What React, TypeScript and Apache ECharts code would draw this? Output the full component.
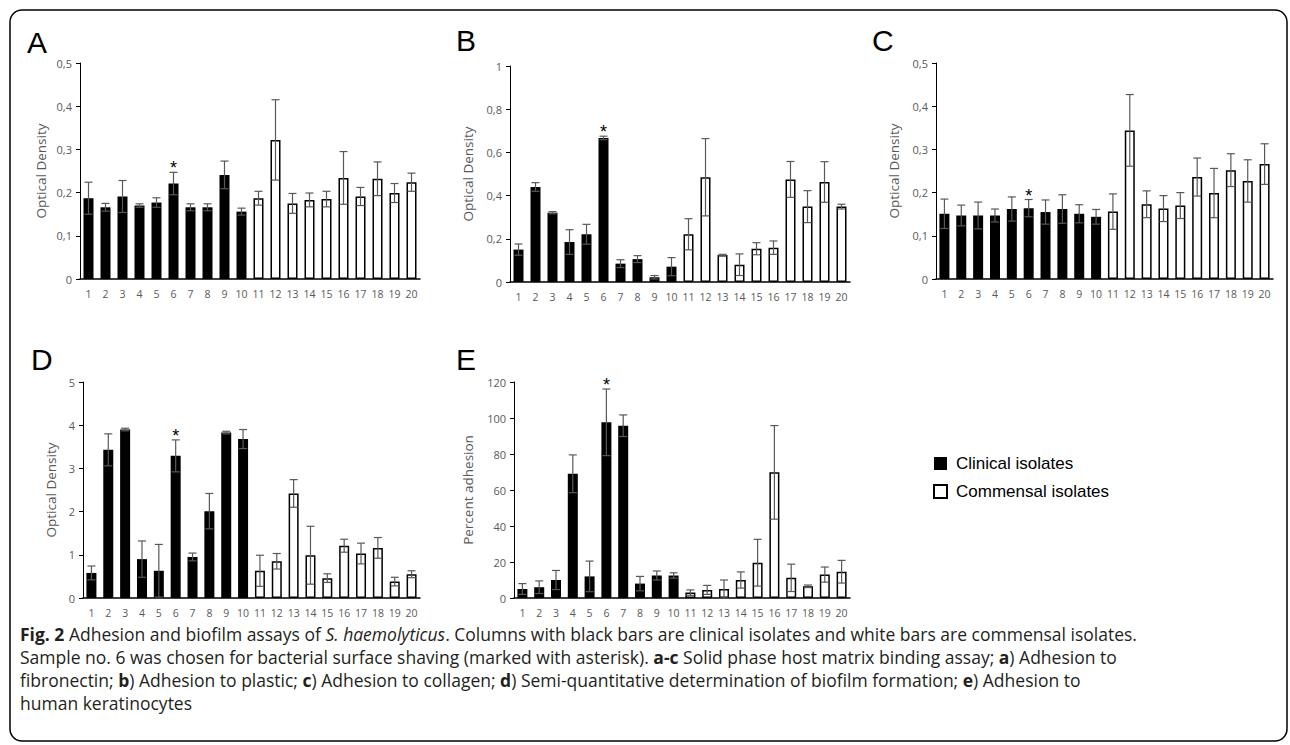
import React, { useEffect, useRef } from "react";
import * as echarts from "echarts";

const categories = ["1","2","3","4","5","6","7","8","9","10","11","12","13","14","15","16","17","18","19","20"];
const clinicalCount = 10;
const markedSample = 6;

// Panel A: adhesion to fibronectin
const fibronectinValues = [0.187,0.166,0.191,0.170,0.177,0.221,0.166,0.166,0.241,0.156,0.187,0.322,0.175,0.183,0.185,0.234,0.191,0.232,0.199,0.224];
const fibronectinErrors = [0.037,0.009,0.037,0.004,0.011,0.026,0.008,0.008,0.032,0.008,0.016,0.093,0.023,0.016,0.018,0.061,0.021,0.039,0.022,0.021];
// Panel B: adhesion to plastic
const plasticValues = [0.150,0.440,0.321,0.185,0.221,0.667,0.085,0.106,0.022,0.071,0.221,0.485,0.125,0.080,0.154,0.159,0.475,0.349,0.463,0.349];
const plasticErrors = [0.026,0.020,0.005,0.057,0.046,0.008,0.018,0.016,0.008,0.042,0.072,0.179,0.003,0.050,0.028,0.031,0.083,0.074,0.094,0.011];
// Panel C: adhesion to collagen
const collagenValues = [0.151,0.147,0.147,0.147,0.162,0.164,0.155,0.162,0.151,0.144,0.156,0.344,0.173,0.163,0.170,0.236,0.199,0.252,0.227,0.266];
const collagenErrors = [0.034,0.024,0.031,0.015,0.028,0.020,0.028,0.033,0.021,0.017,0.041,0.083,0.031,0.030,0.030,0.044,0.057,0.038,0.049,0.047];
// Panel D: biofilm formation
const biofilmValues = [0.58,3.43,3.90,0.90,0.63,3.29,0.95,2.01,3.83,3.68,0.63,0.85,2.42,0.99,0.46,1.21,1.03,1.16,0.38,0.55];
const biofilmErrors = [0.16,0.37,0.03,0.42,0.61,0.37,0.09,0.41,0.03,0.22,0.36,0.18,0.32,0.67,0.10,0.15,0.24,0.24,0.10,0.08];
// Panel E: adhesion to keratinocytes (%)
const keratinocyteValues = [5,6,10,69,12,97.6,95.7,8,12.5,12.5,3,4.5,5,10,19.6,69.8,11.2,6.5,13,14.6];
const keratinocyteErrors = [3,3.5,5.3,10.5,8.5,18.5,6,4,2.5,1.5,1.5,2.5,5,4.5,13,26,7.6,0.7,4.2,6.3];

const yTicksOD05 = { max: 0.5, interval: 0.1 };
const yTicksOD1 = { max: 1, interval: 0.2 };
const yTicksOD5 = { max: 5, interval: 1 };
const yTicksPct = { max: 120, interval: 20 };

const legendNames = ["Clinical isolates", "Commensal isolates"];

const captionLines = [
  "{b|Fig. 2}{n| Adhesion and biofilm assays of }{i|S. haemolyticus}{n|. Columns with black bars are clinical isolates and white bars are commensal isolates.}",
  "{n|Sample no. 6 was chosen for bacterial surface shaving (marked with asterisk). }{b|a-c}{n| Solid phase host matrix binding assay; }{b|a}{n|) Adhesion to}",
  "{n|fibronectin; }{b|b}{n|) Adhesion to plastic; }{b|c}{n|) Adhesion to collagen; }{b|d}{n|) Semi-quantitative determination of biofilm formation; }{b|e}{n|) Adhesion to}",
  "{n|human keratinocytes}",
];

const panels = [
  { letter: "A", values: fibronectinValues, errors: fibronectinErrors, ticks: yTicksOD05, yName: "Optical Density" },
  { letter: "B", values: plasticValues, errors: plasticErrors, ticks: yTicksOD1, yName: "Optical Density" },
  { letter: "C", values: collagenValues, errors: collagenErrors, ticks: yTicksOD05, yName: "Optical Density" },
  { letter: "D", values: biofilmValues, errors: biofilmErrors, ticks: yTicksOD5, yName: "Optical Density" },
  { letter: "E", values: keratinocyteValues, errors: keratinocyteErrors, ticks: yTicksPct, yName: "Percent adhesion" },
];

// layout (positions only)
const layout = [
  { left: 80, top: 63, width: 340, height: 216, nameGap: 32, lx: 27, ly: 55 },
  { left: 510, top: 66, width: 340, height: 216, nameGap: 35, lx: 456, ly: 53 },
  { left: 936, top: 63, width: 337, height: 216, nameGap: 35, lx: 872, ly: 53 },
  { left: 83, top: 382, width: 337, height: 216, nameGap: 25, lx: 31, ly: 372 },
  { left: 514, top: 382, width: 336, height: 216, nameGap: 39, lx: 456, ly: 372 },
];

const FONT = "Open Sans";
const GRAY = "#595959";
const CAP_SIZE = 17.5;
const captionY = [634, 657, 680, 703];

function fmt(v: number) {
  if (v === 0) return "0";
  if (Number.isInteger(v)) return String(v);
  return v.toFixed(1).replace(".", ",");
}

export default function App() {
  const ref = useRef<HTMLDivElement>(null);
  useEffect(() => {
    document.body.style.margin = "0";
    if (!ref.current) return;
    const chart = echarts.init(ref.current, undefined, { renderer: "svg" });

    const grid: any[] = [];
    const xAxis: any[] = [];
    const yAxis: any[] = [];
    const series: any[] = [];
    const graphic: any[] = [];

    panels.forEach((p, gi) => {
      const L = layout[gi];
      grid.push({ left: L.left, top: L.top, width: L.width, height: L.height, containLabel: false });
      xAxis.push({
        type: "category",
        gridIndex: gi,
        data: categories,
        axisLine: { lineStyle: { color: "#000", width: 1.5 } },
        axisTick: { show: false },
        axisLabel: { interval: 0, fontSize: 10.5, color: GRAY, fontFamily: FONT, margin: 9 },
      });
      yAxis.push({
        type: "value",
        gridIndex: gi,
        min: 0,
        max: p.ticks.max,
        interval: p.ticks.interval,
        name: p.yName,
        nameLocation: "middle",
        nameGap: L.nameGap,
        nameTextStyle: { fontSize: 13.5, color: GRAY, fontFamily: FONT },
        axisLine: { show: true, lineStyle: { color: "#000", width: 1 } },
        axisTick: { show: true, length: 4, lineStyle: { color: "#000" } },
        splitLine: { show: false },
        axisLabel: { fontSize: 11, color: GRAY, fontFamily: FONT, margin: 8, formatter: fmt },
      });
      series.push({
        name: legendNames[0],
        type: "bar",
        xAxisIndex: gi,
        yAxisIndex: gi,
        barWidth: 10,
        barGap: "-100%",
        itemStyle: { color: "#000" },
        data: p.values.map((v, i) => (i < clinicalCount ? v : "-")),
      });
      series.push({
        name: legendNames[1],
        type: "bar",
        xAxisIndex: gi,
        yAxisIndex: gi,
        barWidth: 10,
        barGap: "-100%",
        itemStyle: { color: "#fff", borderColor: "#000", borderWidth: 1.5 },
        data: p.values.map((v, i) => (i >= clinicalCount ? v : "-")),
      });
      series.push({
        type: "custom",
        xAxisIndex: gi,
        yAxisIndex: gi,
        z: 5,
        encode: { x: 0, y: 1 },
        data: p.values.map((v, i) => [i, v, p.errors[i], Number(categories[i]) === markedSample ? 1 : 0]),
        renderItem: (params: any, api: any) => {
          const i = api.value(0);
          const v = api.value(1);
          const e = api.value(2);
          const star = api.value(3);
          const top = api.coord([i, v + e]);
          const bot = api.coord([i, v - e]);
          const cap = 4;
          const st = { stroke: GRAY, lineWidth: 1.2 };
          const children: any[] = [
            { type: "line", shape: { x1: top[0], y1: top[1], x2: bot[0], y2: bot[1] }, style: st },
            { type: "line", shape: { x1: top[0] - cap, y1: top[1], x2: top[0] + cap, y2: top[1] }, style: st },
            { type: "line", shape: { x1: bot[0] - cap, y1: bot[1], x2: bot[0] + cap, y2: bot[1] }, style: st },
          ];
          if (star) {
            children.push({
              type: "text",
              x: top[0],
              y: top[1] - 4,
              style: { text: "*", fontSize: 18, fontFamily: "Liberation Sans", fill: "#000", align: "center", verticalAlign: "middle" },
            });
          }
          return { type: "group", children };
        },
      });
      graphic.push({
        type: "text",
        left: L.lx,
        top: L.ly - 28,
        style: { text: p.letter, fontSize: 30, fontFamily: "Liberation Sans", fill: "#000" },
      });
    });

    graphic.push({
      type: "rect",
      shape: { x: 10, y: 10, width: 1277, height: 731, r: 12 },
      style: { fill: "none", stroke: "#000", lineWidth: 1.5 },
      silent: true,
    });

    captionLines.forEach((t, k) => {
      graphic.push({
        type: "text",
        x: 20,
        y: captionY[k],
        style: {
          text: t,
          fontSize: CAP_SIZE,
          fontFamily: FONT,
          fill: "#231f20",
          verticalAlign: "middle",
          rich: {
            n: { fontSize: CAP_SIZE, fontFamily: FONT, fill: "#231f20", lineHeight: CAP_SIZE },
            b: { fontSize: CAP_SIZE, fontFamily: FONT, fontWeight: "bold", fill: "#231f20", lineHeight: CAP_SIZE },
            i: { fontSize: CAP_SIZE, fontFamily: FONT, fontStyle: "italic", fill: "#231f20", lineHeight: CAP_SIZE },
          },
        },
      });
    });

    chart.setOption({
      animation: false,
      backgroundColor: "#fff",
      grid,
      xAxis,
      yAxis,
      series,
      graphic,
      legend: {
        data: legendNames,
        orient: "vertical",
        left: 933,
        top: 455,
        padding: 0,
        icon: "rect",
        itemWidth: 13,
        itemHeight: 13,
        itemGap: 11,
        selectedMode: false,
        textStyle: { fontSize: 17, fontFamily: "Liberation Sans", color: "#000", padding: [0, 0, 0, 4] },
      },
    });
    return () => chart.dispose();
  }, []);
  return <div ref={ref} style={{ width: 1290, height: 745 }} />;
}
